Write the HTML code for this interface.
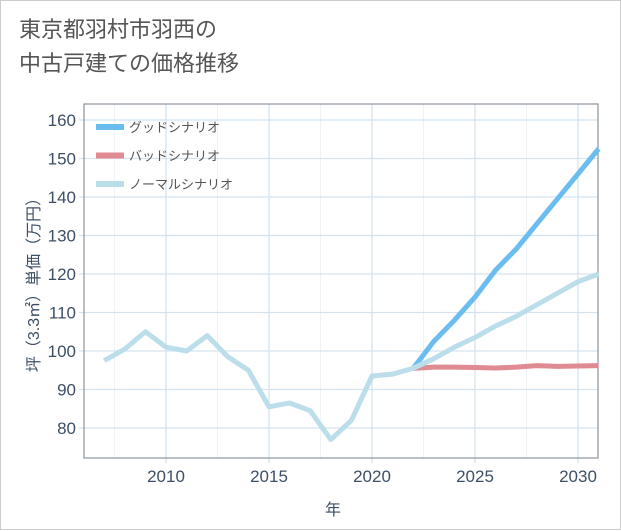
<!DOCTYPE html>
<html><head><meta charset="utf-8"><style>
body{margin:0;background:#fff;}
#wrap{position:relative;width:619px;height:528px;border:1px solid #ccc;background:#fff;font-family:"Liberation Sans","Noto Sans CJK JP",sans-serif;}
#title{position:absolute;left:18px;top:12px;font-size:22px;line-height:34px;color:#555;}
svg{position:absolute;left:0;top:0;}
</style></head><body>
<div id="wrap">
<div id="title">東京都羽村市羽西の<br>中古戸建ての価格推移</div>
<svg id="chart" width="621" height="530"></svg>
</div>
<script>
const years=[2007,2008,2009,2010,2011,2012,2013,2014,2015,2016,2017,2018,2019,2020,2021,2022,2023,2024,2025,2026,2027,2028,2029,2030,2031];
const normal=[97.5,100.5,105,101,100,104,98.5,95,85.5,86.5,84.5,77,82,93.5,94,95.5,98,101,103.5,106.5,109,112,115,118,120];
const goodYears=[2022,2023,2024,2025,2026,2027,2028,2029,2030,2031];
const good=[95.5,102.5,108,114,121,126.5,133,139.5,146,152.5];
const bad=[95.5,95.8,95.8,95.7,95.6,95.8,96.2,96,96.1,96.2];
const yTicks=[80,90,100,110,120,130,140,150,160];
const xTicks=[2010,2015,2020,2025,2030];
const NS="http://www.w3.org/2000/svg";
const svg=document.getElementById('chart');
const L=83,R=597,T=103,B=457;
const xs=y=>371+(y-2020)*20.6;
const ys=v=>427-(v-80)*3.85;
function mk(t,a){const e=document.createElementNS(NS,t);for(const k in a)e.setAttribute(k,a[k]);svg.appendChild(e);return e;}
for(let y=2007.5;y<2031;y+=2.5){if(y%5===0)continue;const e=mk('line',{x1:xs(y),x2:xs(y),y1:T,y2:B,stroke:'#eef3f8','stroke-width':1});

}
yTicks.forEach(v=>{const e=mk('line',{x1:L-5,x2:R,y1:ys(v),y2:ys(v),stroke:'#d5e3ef','stroke-width':1.3});


const t=mk('text',{x:L-8,y:ys(v)+6,'text-anchor':'end','font-size':17,fill:'#3d4f66'});t.textContent=v;

});
xTicks.forEach(v=>{const e=mk('line',{x1:xs(v),x2:xs(v),y1:T,y2:B+5,stroke:'#d5e3ef','stroke-width':1.3});


const t=mk('text',{x:xs(v),y:B+24,'text-anchor':'middle','font-size':17,fill:'#3d4f66'});t.textContent=v;

});
const fr=mk('rect',{x:L,y:T,width:R-L,height:B-T,fill:'none',stroke:'#8a949e','stroke-width':1.2});


function line(xv,yv,c,w,name){const p=mk('polyline',{points:xv.map((x,i)=>xs(x)+','+ys(yv[i])).join(' '),fill:'none',stroke:c,'stroke-width':w,'stroke-linejoin':'round'});

}
line(goodYears,good,'#6bbdf0',5,'good-scenario-line');
line(goodYears,bad,'#e08a92',5,'bad-scenario-line');
line(years,normal,'#bcdeeb',5,'normal-scenario-line');
const legend=[['グッドシナリオ','#6bbdf0'],['バッドシナリオ','#e08a92'],['ノーマルシナリオ','#bcdeeb']];
legend.forEach((l,i)=>{const y=126+i*28.5;
const s=mk('line',{x1:95,x2:123,y1:y,y2:y,stroke:l[1],'stroke-width':6});


const t=mk('text',{x:128,y:y+5,'font-size':13,fill:'#555'});t.textContent=l[0];

});
const xt=mk('text',{x:332,y:514,'text-anchor':'middle','font-size':16,fill:'#3d4f66'});xt.textContent='年';


const yt=mk('text',{x:0,y:0,'text-anchor':'middle','font-size':16,fill:'#3d4f66',transform:'translate(38,280) rotate(-90)'});yt.textContent='坪（3.3㎡）単価（万円）';


</script>
</body></html>
